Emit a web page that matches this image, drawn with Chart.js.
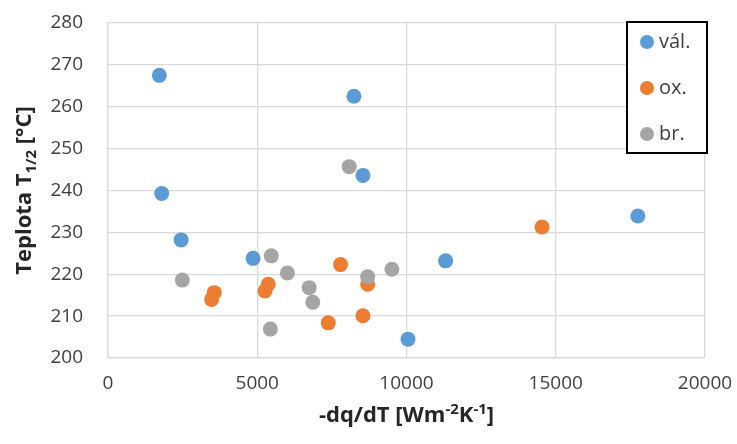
<!DOCTYPE html>
<html>
<head>
<meta charset="utf-8">
<script src="https://cdn.jsdelivr.net/npm/chart.js@4.4.0/dist/chart.umd.min.js"></script>
<style>
  html, body { margin: 0; padding: 0; background: #fff; }
</style>
</head>
<body>
<canvas id="chart" width="737" height="444"></canvas>
<script>
// series names + colours (Excel defaults)
const seriesNames = ["vál.", "ox.", "br."];
const seriesColors = ["#5B9BD5", "#ED7D31", "#A5A5A5"];

// values
const valX = [1720, 8240, 8540, 1800, 2450, 4860, 10050, 11310, 17750];
const valY = [267.5, 262.5, 243.6, 239.3, 228.2, 223.8, 204.5, 223.2, 233.9];

const oxX = [3560, 3470, 5370, 5260, 7790, 8700, 8540, 7380, 14540];
const oxY = [215.6, 214.0, 217.6, 216.0, 222.3, 217.6, 210.1, 208.4, 231.3];

const brX = [8080, 5470, 6010, 9510, 8700, 2490, 6740, 6860, 5440];
const brY = [245.7, 224.4, 220.3, 221.2, 219.4, 218.6, 216.8, 213.3, 206.9];

// axis settings
const xMin = 0, xMax = 20000, xStep = 5000;
const yMin = 200, yMax = 280, yStep = 10;

// axis titles as rich segments (text, "sub"/"sup"/null)
const xTitle = [["-dq/dT [Wm", null], ["-2", "sup"], ["K", null], ["-1", "sup"], ["]", null]];
const yTitle = [["Teplota T", null], ["1/2", "sub"], [" [°C]", null]];

const FONT = "'Open Sans', 'Liberation Sans', sans-serif";

function pts(xs, ys) {
  return xs.map((x, i) => ({ x: x, y: ys[i] }));
}

function drawRich(ctx, segs, cx, cy, size) {
  const small = Math.round(size * 0.68);
  let total = 0;
  const widths = segs.map(([t, kind]) => {
    ctx.font = "bold " + (kind ? small : size) + "px " + FONT;
    const w = ctx.measureText(t).width;
    total += w;
    return w;
  });
  let x = cx - total / 2;
  ctx.textBaseline = "alphabetic";
  ctx.textAlign = "left";
  segs.forEach(([t, kind], i) => {
    ctx.font = "bold " + (kind ? small : size) + "px " + FONT;
    let dy = size * 0.36;
    if (kind === "sub") dy += size * 0.22;
    if (kind === "sup") dy -= size * 0.38;
    ctx.fillText(t, x, cy + dy);
    x += widths[i];
  });
}

const axisTitles = {
  id: "axisTitles",
  afterDraw(chart) {
    const ctx = chart.ctx;
    const a = chart.chartArea;
    ctx.save();
    ctx.fillStyle = "#262626";
    drawRich(ctx, xTitle, (a.left + a.right) / 2, 414, 22);
    ctx.translate(23, (a.top + a.bottom) / 2);
    ctx.rotate(-Math.PI / 2);
    drawRich(ctx, yTitle, 0, 0, 22);
    ctx.restore();
  }
};

const boxLegend = {
  id: "boxLegend",
  afterDraw(chart) {
    const ctx = chart.ctx;
    const bx = 627, by = 22, bw = 80, bh = 131;
    ctx.save();
    ctx.fillStyle = "#fff";
    ctx.fillRect(bx, by, bw, bh);
    ctx.strokeStyle = "#000";
    ctx.lineWidth = 2;
    ctx.strokeRect(bx, by, bw, bh);
    ctx.font = "20px " + FONT;
    ctx.textBaseline = "middle";
    ctx.textAlign = "left";
    seriesNames.forEach((name, i) => {
      const y = 42 + i * 46;
      ctx.fillStyle = seriesColors[i];
      ctx.beginPath();
      ctx.arc(647, y, 7, 0, Math.PI * 2);
      ctx.fill();
      ctx.fillStyle = "#404040";
      ctx.fillText(name, 659, y);
    });
    ctx.restore();
  }
};

const bg = {
  id: "customCanvasBackgroundColor",
  beforeDraw(chart) {
    const { ctx } = chart;
    ctx.save();
    ctx.globalCompositeOperation = "destination-over";
    ctx.fillStyle = "white";
    ctx.fillRect(0, 0, chart.width, chart.height);
    ctx.restore();
  }
};

const gridStyle = { color: "#d9d9d9", lineWidth: 1.3, drawTicks: false };
const tickFont = { family: FONT, size: 19 };

new Chart(document.getElementById("chart"), {
  type: "scatter",
  data: {
    datasets: [
      { label: seriesNames[0], data: pts(valX, valY), backgroundColor: seriesColors[0], order: 2 },
      { label: seriesNames[1], data: pts(oxX, oxY), backgroundColor: seriesColors[1], order: 1 },
      { label: seriesNames[2], data: pts(brX, brY), backgroundColor: seriesColors[2], order: 0 }
    ]
  },
  options: {
    responsive: false,
    animation: false,
    devicePixelRatio: 1,
    layout: { padding: { top: 23, right: 32, left: 0, bottom: 0 } },
    elements: { point: { radius: 7.5, hoverRadius: 7.5, borderWidth: 0 } },
    plugins: { legend: { display: false }, tooltip: { enabled: false } },
    scales: {
      x: {
        type: "linear",
        min: xMin, max: xMax,
        ticks: { stepSize: xStep, font: tickFont, color: "#404040", padding: 14, maxRotation: 0,
                 callback: v => String(v) },
        grid: gridStyle,
        border: { color: "#d9d9d9", width: 1.3 },
        afterFit(s) { s.height = 86; s.paddingLeft = 0; s.paddingRight = 0; }
      },
      y: {
        type: "linear",
        min: yMin, max: yMax,
        ticks: { stepSize: yStep, font: tickFont, color: "#404040", padding: 25,
                 callback: v => String(v) },
        grid: gridStyle,
        border: { color: "#d9d9d9", width: 1.3 },
        afterFit(s) { s.width = 108; s.paddingTop = 0; s.paddingBottom = 0; }
      }
    }
  },
  plugins: [bg, axisTitles, boxLegend]
});
</script>
</body>
</html>
